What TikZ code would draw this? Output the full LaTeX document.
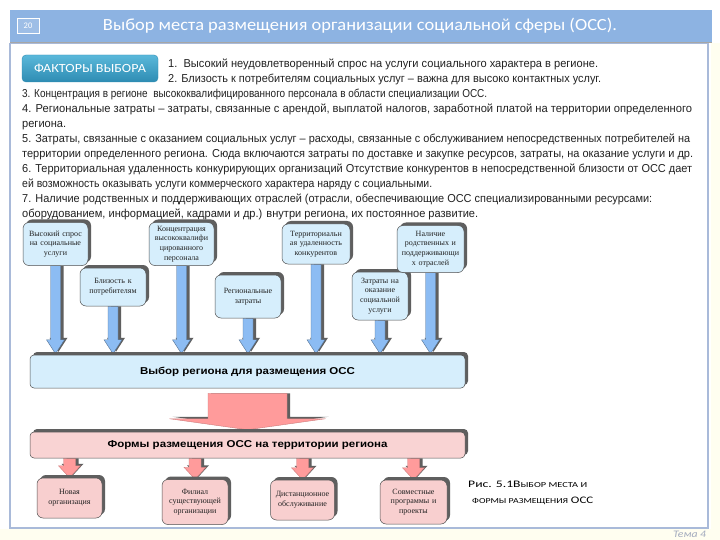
\documentclass[tikz,border=0pt]{standalone}
\usepackage{fontspec}
\usepackage{graphicx}
\setmainfont{Liberation Sans}
\newfontfamily\serf{Liberation Serif}
\newfontfamily\calib{Carlito}
\usetikzlibrary{calc,shadows}
\definecolor{bandc}{HTML}{8DB3E2}
\definecolor{framec}{HTML}{A9BAD9}
\definecolor{btntop}{HTML}{5AB8DA}
\definecolor{btnbot}{HTML}{2E8CB3}
\definecolor{boxblue}{HTML}{D6EEFC}
\definecolor{boxline}{HTML}{505050}
\definecolor{shadowc}{HTML}{5F5F5F}
\definecolor{arrblue}{HTML}{8CBCF3}
\definecolor{arrred}{HTML}{FF9B9B}
\definecolor{pinkbar}{HTML}{F9D3D3}
\definecolor{pinkbox}{HTML}{F8CFCF}
\definecolor{txtc}{HTML}{222222}
\definecolor{temac}{HTML}{A3ABBE}
\definecolor{stripc}{HTML}{FFFEF0}
\newsavebox\fitbox
\newcommand\fitline[2]{\sbox\fitbox{#2}\pgfmathsetmacro\fitsx{#1/\the\wd\fitbox}\scalebox{\fitsx}[1]{\usebox\fitbox}}
\newcommand\smc[1]{{\fontsize{7.6}{9}\selectfont #1}}
\newcommand\blockarr[7]{%
  \fill[shadowc] ($(#1)+(-#3+3,0)$) -- ($(#2)+(-#3+3,-#5-2)$) -- ($(#2)+(-#4+3,-#5-2)$) -- ($(#2)+(3,-2)$) -- ($(#2)+(#4+3,-#5-2)$) -- ($(#2)+(#3+3,-#5-2)$) -- ($(#1)+(#3+3,0)$) -- cycle;
  \filldraw[fill=#6, draw=#7, line width=0.4pt] ($(#1)+(-#3,0)$) -- ($(#2)+(-#3,-#5)$) -- ($(#2)+(-#4,-#5)$) -- (#2) -- ($(#2)+(#4,-#5)$) -- ($(#2)+(#3,-#5)$) -- ($(#1)+(#3,0)$) -- cycle;
}
\pgfdeclarelayer{background}
\pgfsetlayers{background,main}
\tikzset{
  txt/.style={inner sep=0pt, anchor=base west, text=txtc, font=\fontsize{11.5}{13}\selectfont},
  dshadow/.style={drop shadow={shadow xshift=3pt, shadow yshift=3pt, opacity=1, fill=shadowc}},
  topbox/.style={rounded corners=6pt, fill=boxblue, draw=boxline, line width=0.5pt, dshadow,
    align=center, inner sep=1pt, text=txtc, font=\serf\fontsize{8}{9.6}\selectfont},
  botbox/.style={topbox, fill=pinkbox},
  barbox/.style={rounded corners=4pt, fill=boxblue, draw=boxline, line width=0.5pt, dshadow,
    inner sep=0pt, text=black, font=\bfseries\fontsize{10}{12}\selectfont},
}
\begin{document}
\begin{tikzpicture}[x=1pt,y=-1pt]
\useasboundingbox (0,0) rectangle (720,540);
\begin{pgfonlayer}{background}
\fill[white] (0,0) rectangle (720,540);
\fill[stripc] (0,529) rectangle (720,540);
\fill[stripc] (711,43) rectangle (720,540);
\end{pgfonlayer}
% title band
\fill[bandc] (10,10) rectangle (712,42);
\draw[gray!70, line width=1pt] (10,42.5) -- (712,42.5);
\node[draw=white, line width=0.8pt, fill=bandc!85!white, minimum width=22, minimum height=15, inner sep=0pt,
  text=white, font=\calib\fontsize{8.5}{10}\selectfont] (num) at (28,25.5) {20};
\node[inner sep=0pt, text=white, font=\calib\fontsize{17}{20}\selectfont] (title) at (360,26) {\fitline{514}{Выбор места размещения организации социальной сферы (ОСС).}};
% frame
\draw[framec, line width=1.6pt] (10,43.5) rectangle (708,528);
% button
\node[rounded corners=4pt, top color=btntop, bottom color=btnbot, draw=btnbot, minimum width=136, minimum height=27,
  inner sep=0pt, text=white, font=\calib\fontsize{12.5}{14}\selectfont] (btn) at (90,68.5) {\fitline{112}{ФАКТОРЫ ВЫБОРА}};
% text lines
\node[txt] (l1) at (168,68) {\fitline{430}{1.\ \ Высокий неудовлетворенный спрос на услуги социального характера в регионе.}};
\node[txt] (l2) at (168,83) {\fitline{433}{2. Близость к потребителям социальных услуг – важна для высоко контактных услуг.}};
\node[txt] (l3) at (22,98) {\fitline{465}{3. Концентрация в регионе\ \ высококвалифицированного персонала в области специализации ОСС.}};
\node[txt] (l4) at (22,113) {\fitline{670}{4. Региональные затраты – затраты, связанные с арендой, выплатой налогов, заработной платой на территории определенного}};
\node[txt] (l5) at (22,128) {\fitline{44}{региона.}};
\node[txt] (l6) at (22,143) {\fitline{668}{5. Затраты, связанные с оказанием социальных услуг – расходы, связанные с обслуживанием непосредственных потребителей на}};
\node[txt] (l7) at (22,158) {\fitline{671}{территории определенного региона. Сюда включаются затраты по доставке и закупке ресурсов, затраты, на оказание услуги и др.}};
\node[txt] (l8) at (22,173) {\fitline{670}{6. Территориальная удаленность конкурирующих организаций Отсутствие конкурентов в непосредственной близости от ОСС дает}};
\node[txt] (l9) at (22,188) {\fitline{410}{ей возможность оказывать услуги коммерческого характера наряду с социальными.}};
\node[txt] (l10) at (22,203) {\fitline{630}{7. Наличие родственных и поддерживающих отраслей (отрасли, обеспечивающие ОСС специализированными ресурсами:}};
\node[txt] (l11) at (22,218) {\fitline{456}{оборудованием, информацией, кадрами и др.) внутри региона, их постоянное развитие.}};
% top boxes
\node[topbox, minimum width=65, minimum height=43, text width=63] (b1) at (55.5,244) {Высокий спрос\\на социальные\\услуги};
\node[topbox, minimum width=66, minimum height=38, text width=64] (b2) at (113,287) {Близость к\\потребителям};
\node[topbox, minimum width=63, minimum height=43, text width=63] (b3) at (181.5,244) {Концентрация\\высококвалифи\\цированного\\персонала};
\node[topbox, minimum width=66, minimum height=43, text width=64] (b4) at (248,296.5) {Региональные\\затраты};
\node[topbox, minimum width=68, minimum height=40, text width=66] (b5) at (316,244) {Территориальн\\ая удаленность\\конкурентов};
\node[topbox, minimum width=54, minimum height=48, text width=54] (b6) at (380,296) {Затраты на\\оказание\\социальной\\услуги};
\node[topbox, minimum width=65, minimum height=47, text width=65] (b7) at (430.5,249) {Наличие\\родственных и\\поддерживающи\\х отраслей};
% bars
\node[barbox, minimum width=435, minimum height=33] (bar1) at (247.5,371.5) {\fitline{215}{Выбор региона для размещения ОСС}};
\node[barbox, fill=pinkbar, minimum width=435, minimum height=26] (bar2) at (247.5,445) {\fitline{280}{Формы размещения ОСС на территории региона}};
% bottom boxes
\node[botbox, minimum width=65, minimum height=40, text width=63] (c1) at (69.5,498) {Новая\\организация};
\node[botbox, minimum width=64, minimum height=45, text width=64] (c2) at (195,502) {Филиал\\существующей\\организации};
\node[botbox, minimum width=61, minimum height=40, text width=62] (c3) at (302.5,500) {Дистанционное\\обслуживание};
\node[botbox, minimum width=67, minimum height=44, text width=65] (c4) at (413.5,502) {Совместные\\программы и\\проекты};
% caption
\node[inner sep=0pt, anchor=base west, text=black, font=\calib\fontsize{10}{12}\selectfont] (cap1) at (468,487) {\fitline{119}{Рис. 5.1В\smc{ЫБОР МЕСТА И}}};
\node[inner sep=0pt, anchor=base west, text=black, font=\calib\fontsize{10}{12}\selectfont] (cap2) at (472,503) {\fitline{121}{\smc{ФОРМЫ РАЗМЕЩЕНИЯ} ОСС}};
\node[inner sep=0pt, anchor=base west, text=temac, font=\calib\itshape\fontsize{10}{12}\selectfont] (tema) at (673,537) {\fitline{33}{Тема 4}};
% connectors
\foreach \i in {1,...,7} {\coordinate (e\i) at ($(b\i.south |- bar1.north)+(0,-1)$);}
\foreach \i in {1,...,4} {\coordinate (f\i) at (c\i.north); \coordinate (s\i) at (c\i.north |- bar2.south);}
\coordinate (rs) at ($(bar1.south)+(0,5)$);
\coordinate (re) at ($(bar2.north)+(0,-2)$);
\begin{pgfonlayer}{background}
\foreach \i in {1,...,7} {\blockarr{b\i.south}{e\i}{5}{9}{14}{arrblue}{arrblue!60!black}}
\blockarr{rs}{re}{39.5}{78}{11}{arrred}{arrred!80!black}
\foreach \i in {1,...,4} {\blockarr{s\i}{f\i}{6}{11}{12}{arrred}{arrred!80!black}}
\end{pgfonlayer}
\end{tikzpicture}
\end{document}
